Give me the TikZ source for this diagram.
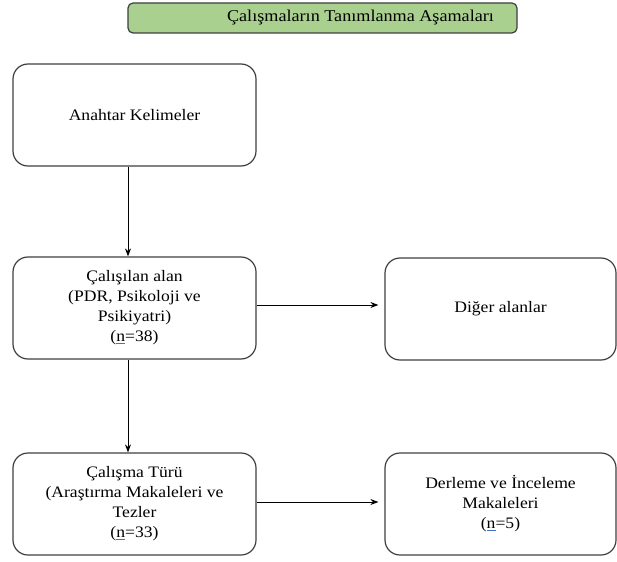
\documentclass[tikz,border=0pt]{standalone}
\usepackage{fontspec}
\setmainfont[FakeStretch=1.1]{Liberation Serif}
\usetikzlibrary{arrows.meta}
\definecolor{titlegreen}{HTML}{A9D08E}
\definecolor{boxgray}{HTML}{3F3F3F}
\definecolor{ulblue}{HTML}{4472C4}
\newcommand{\un}{{\color{ulblue}\underline{\color{black}n}}}
\tikzset{
  stagebox/.style={draw=boxgray, line width=1.2pt, rounded corners=15pt, align=center,
    minimum width=243pt, minimum height=102pt, inner sep=0pt,
    font=\rmfamily\fontsize{16}{20}\selectfont},
  titlebox/.style={draw=boxgray, line width=1.2pt, fill=titlegreen, rounded corners=5pt,
    minimum width=389pt, minimum height=30pt, inner sep=0pt,
    font=\rmfamily\fontsize{16.5}{18}\selectfont},
  arr/.style={-{Stealth[length=8pt,width=6pt]}, line width=0.9pt, black}
}
\begin{document}
\begin{tikzpicture}[x=1pt,y=-1pt]
\useasboundingbox (0,0) rectangle (617,561);
\node[titlebox] (title) at (322.5,18) {\hspace*{76pt}Çalışmaların Tanımlanma Aşamaları};
\node[stagebox] (b1) at (134.5,115) {Anahtar Kelimeler};
\node[stagebox] (b2) at (134.5,308) {Çalışılan alan\\(PDR, Psikoloji ve\\Psikiyatri)\\(\un=38)};
\node[stagebox] (b3) at (134.5,504) {Çalışma Türü\\(Araştırma Makaleleri ve\\Tezler\\(\un=33)};
\node[stagebox, minimum width=231pt] (r1) at (500.5,309) {Diğer alanlar};
\node[stagebox, minimum width=231pt] (r2) at (500.5,504) {Derleme ve İnceleme\\Makaleleri\\(\un=5)};
\draw[arr] ([xshift=-6.5pt]b1.south) -- ([xshift=-6.5pt]b2.north);
\draw[arr] ([xshift=-6.5pt]b2.south) -- ([xshift=-6.5pt]b3.north);
\draw[arr, shorten >=6pt] ([yshift=3pt]b2.east) -- ([yshift=3pt]b2.east -| r1.west);
\draw[arr, shorten >=6pt] ([yshift=2pt]b3.east) -- ([yshift=2pt]b3.east -| r2.west);
\end{tikzpicture}
\end{document}
